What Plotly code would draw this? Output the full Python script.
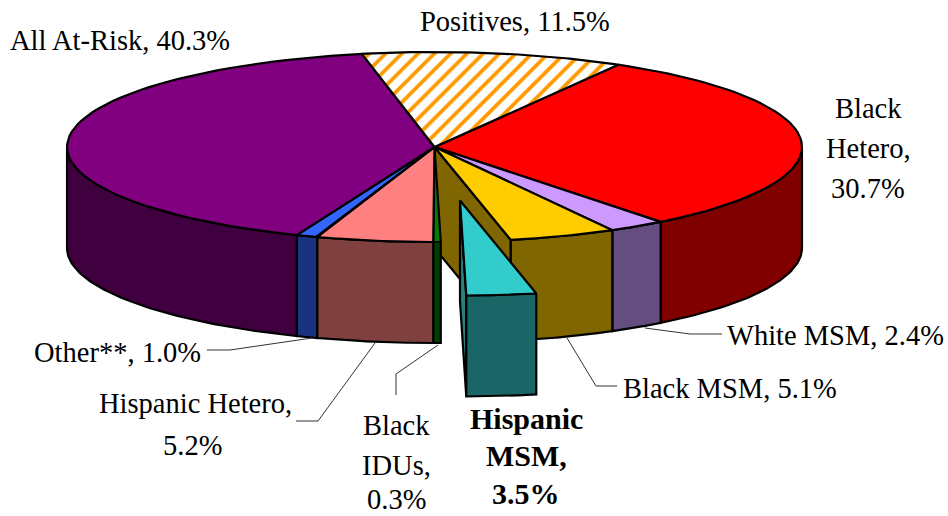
import numpy as np
import plotly.graph_objects as go

# ---- data, clockwise from the first slice ----
categories = ["Black Hetero", "White MSM", "Black MSM", "Hispanic MSM", "Black IDUs",
              "Hispanic Hetero", "Other**", "All At-Risk", "Positives"]
shares = [30.7, 2.4, 5.1, 3.5, 0.3, 5.2, 1.0, 40.3, 11.5]
exploded = "Hispanic MSM"
top_colors = ["#ff0000", "#cc99ff", "#ffcc00", "#33cccc", "#008000",
              "#ff8080", "#3366ff", "#800080", "#ffffff"]
wall_colors = ["#800000", "#664d80", "#806600", "#1a6666", "#004000",
               "#804040", "#1a3380", "#400040", "#808080"]

# ---- view ----
CX, CY, RX, RY, DEPTH = 434.5, 147.0, 367.5, 95.0, 101.0
START = 30.0
EXPLODE = (25.5, 53.5)
# angular correction of the 3-D view
VIEW_IN = [30, 140.5, 149.1, 167.5, 180.1, 181.2, 199.9, 203.5, 348.6, 390]
VIEW_OUT = [30, 142.0, 151.0, 168.0, 179.0, 180.2, 198.6, 202.0, 348.6, 390]


def view(a):
    return np.interp(a, VIEW_IN, VIEW_OUT)


def px(a, dx=0.0, dy=0.0):
    t = np.radians(view(a))
    return CX + RX * np.sin(t) + dx, CY - RY * np.cos(t) + dy


fig = go.Figure()


def poly(xs, ys, fill, width=2.2, pattern=None):
    kw = {"fillpattern": pattern} if pattern else {}
    fig.add_trace(go.Scatter(x=list(xs), y=list(ys), mode="lines", fill="toself",
                             fillcolor=fill, line=dict(color="black", width=width),
                             hoverinfo="skip", showlegend=False, **kw))


def arc(a0, a1, n=60):
    return np.linspace(a0, a1, n)


def wall(a0, a1, color, dx=0.0, dy=0.0):
    lo, hi = max(a0, 90), min(a1, 270)
    if hi <= lo:
        return
    x, y = px(arc(lo, hi), dx, dy)
    poly(np.r_[x, x[::-1], x[0]], np.r_[y, y[::-1] + DEPTH, y[0]], color)


def top(a0, a1, color, dx=0.0, dy=0.0, pattern=None):
    x, y = px(arc(a0, a1), dx, dy)
    poly(np.r_[CX + dx, x, CX + dx], np.r_[CY + dy, y, CY + dy], color, pattern=pattern)


def cut(a, color, dx=0.0, dy=0.0):
    x, y = px(a, dx, dy)
    ax, ay = CX + dx, CY + dy
    poly([ax, x, x, ax, ax], [ay, y, y + DEPTH, ay + DEPTH, ay], color)


edges = START + np.r_[0, np.cumsum(shares)] * 3.6
slices = list(zip(categories, edges[:-1], edges[1:], top_colors, wall_colors))

# inner face left visible by the pulled-out slice
for name, a0, a1, tc, wc in slices:
    if name == exploded:
        cut(a0, slices[2][4])
for name, a0, a1, tc, wc in slices:
    if name != exploded:
        wall(a0, a1, wc)
for name, a0, a1, tc, wc in slices:
    if name == "Positives":
        top(a0, a1, "#ffffff", pattern=dict(shape="/", fgcolor="#ff9900", bgcolor="#ffffff",
                                            size=11.5, solidity=0.33, fillmode="replace"))
    elif name != exploded:
        top(a0, a1, tc)
for name, a0, a1, tc, wc in slices:
    if name == exploded:
        cut(a1, "#268080", *EXPLODE)
        wall(a0, a1, wc, *EXPLODE)
        top(a0, a1, tc, *EXPLODE)

# ---- leader lines ----
leaders = [
    ([645, 690, 722], [328, 334, 334]),
    ([567, 596, 617], [338, 386, 386]),
    ([438, 396, 396], [345, 374, 395]),
    ([375, 318, 296], [343, 421, 421]),
    ([312, 230, 207], [338, 350, 350]),
]
for lx, ly in leaders:
    fig.add_trace(go.Scatter(x=lx, y=ly, mode="lines", line=dict(color="#333333", width=1),
                             hoverinfo="skip", showlegend=False))

# ---- labels ----
label_text = ["Positives, 11.5%", "All At-Risk, 40.3%", "Black", "Hetero,", "30.7%",
              "White MSM, 2.4%", "Black MSM, 5.1%", "Hispanic Hetero,", "5.2%",
              "Other**, 1.0%", "Black", "IDUs,", "0.3%",
              "<b>Hispanic</b>", "<b>MSM,</b>", "<b>3.5%</b>"]
label_x = [515, 120, 868, 868, 868, 835, 730, 195, 192, 117.5, 396, 396, 396, 526, 526, 526]
label_y = [21, 40, 108, 148, 188, 335, 388, 403, 445, 352, 425, 465, 499, 418, 455, 493]
label_size = [28.5] * 13 + [30, 30, 30]
for t, x, y, s in zip(label_text, label_x, label_y, label_size):
    fig.add_annotation(x=x, y=y, text=t, showarrow=False, xanchor="center", yanchor="middle",
                       font=dict(family="Liberation Serif", size=s, color="black"))

fig.update_layout(width=948, height=516, margin=dict(l=0, r=0, t=0, b=0),
                  paper_bgcolor="white", plot_bgcolor="white", showlegend=False,
                  xaxis=dict(range=[0, 948], visible=False, fixedrange=True),
                  yaxis=dict(range=[516, 0], visible=False, fixedrange=True))
fig.write_html("out.html", config={"displayModeBar": False},
               post_script="document.body.style.margin='0';document.documentElement.style.overflow='hidden';")
